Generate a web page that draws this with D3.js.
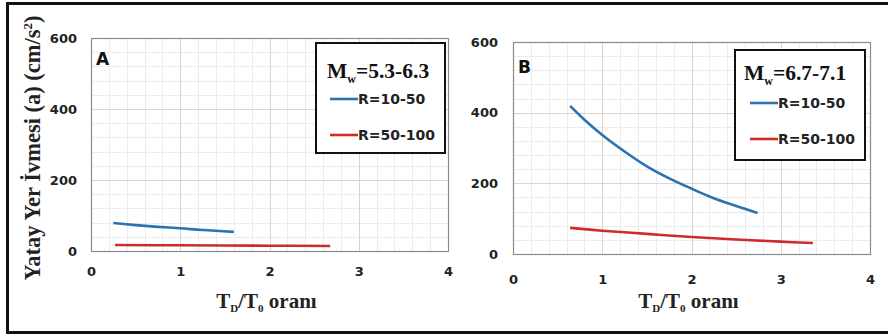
<!DOCTYPE html>
<html>
<head>
<meta charset="utf-8">
<script src="https://cdn.jsdelivr.net/npm/d3@7"></script>
<style>
  html, body { margin: 0; padding: 0; background: #fff; }
  svg { display: block; }
</style>
</head>
<body>
<svg id="chart" width="888" height="336"></svg>
<script>
// Tick values shared by both panels
const xTicks = [0, 1, 2, 3, 4];
const yTicks = [0, 200, 400, 600];

// Panel A: Mw 5.3-6.3
const aNear = [[0.25, 79], [0.5, 73], [0.75, 68], [1.0, 64], [1.25, 59], [1.6, 54]];
const aFar  = [[0.27, 17], [1.0, 16], [2.0, 15], [2.68, 14]];

// Panel B: Mw 6.7-7.1
const bNear = [[0.64, 419], [0.8, 380], [1.0, 337], [1.25, 290], [1.5, 248], [1.75, 214],
               [2.0, 185], [2.25, 158], [2.5, 136], [2.74, 116]];
const bFar  = [[0.64, 74], [1.0, 66], [1.5, 57], [2.0, 48], [2.5, 41], [3.0, 35], [3.36, 31]];

const seriesNames = ["R=10-50", "R=50-100"];
const seriesColors = ["#2b72b3", "#cf2a2e"];

const sansBold = "DejaVu Sans, Verdana, sans-serif";
const serif = "Liberation Serif, Times New Roman, serif";

const svg = d3.select("#chart");

// outer frame
const frame = svg.append("g").attr("stroke", "#111").attr("stroke-width", 3).attr("fill", "none");
frame.append("line").attr("x1", 7).attr("x2", 888).attr("y1", 3.5).attr("y2", 3.5);
frame.append("line").attr("x1", 7).attr("x2", 888).attr("y1", 332.5).attr("y2", 332.5);
frame.append("line").attr("x1", 7.5).attr("x2", 7.5).attr("y1", 2).attr("y2", 334);

function panel(opts) {
  const g = svg.append("g");
  const x = d3.scaleLinear().domain([0, 4]).range([opts.left, opts.right]);
  const y = d3.scaleLinear().domain([0, 600]).range([opts.bottom, opts.top]);

  // minor grid
  const gx = g.append("g").attr("stroke", "#ececec").attr("stroke-width", 1);
  d3.range(0, 4.001, 0.2).forEach(v => {
    gx.append("line").attr("x1", Math.round(x(v)) + 0.5).attr("x2", Math.round(x(v)) + 0.5)
      .attr("y1", opts.top).attr("y2", opts.bottom);
  });
  d3.range(0, 600.1, 40).forEach(v => {
    gx.append("line").attr("y1", Math.round(y(v)) + 0.5).attr("y2", Math.round(y(v)) + 0.5)
      .attr("x1", opts.left).attr("x2", opts.right);
  });
  // major grid
  const gm = g.append("g").attr("stroke", "#d6d6d6").attr("stroke-width", 1);
  xTicks.forEach(v => {
    gm.append("line").attr("x1", Math.round(x(v)) + 0.5).attr("x2", Math.round(x(v)) + 0.5)
      .attr("y1", opts.top).attr("y2", opts.bottom);
  });
  yTicks.forEach(v => {
    gm.append("line").attr("y1", Math.round(y(v)) + 0.5).attr("y2", Math.round(y(v)) + 0.5)
      .attr("x1", opts.left).attr("x2", opts.right);
  });

  // plot border
  g.append("rect").attr("x", opts.left + 0.5).attr("y", opts.top + 0.5)
    .attr("width", opts.right - opts.left).attr("height", opts.bottom - opts.top)
    .attr("fill", "none").attr("stroke", "#8a8a8a").attr("stroke-width", 1.2);

  // axes
  const xAxis = d3.axisBottom(x).tickValues(xTicks).tickSize(0).tickPadding(opts.xPad).tickFormat(d3.format("d"));
  const yAxis = d3.axisLeft(y).tickValues(yTicks).tickSize(0).tickPadding(opts.yPad).tickFormat(d3.format("d"));
  const ax = g.append("g").attr("transform", `translate(0,${opts.bottom})`).call(xAxis);
  const ay = g.append("g").attr("transform", `translate(${opts.left},0)`).call(yAxis);
  [ax, ay].forEach(a => {
    a.select(".domain").remove();
    a.selectAll("text").attr("font-family", sansBold)
      .attr("font-weight", "bold").attr("font-size", 13).attr("fill", "#222");
  });

  // series
  const line = d3.line().x(d => x(d[0])).y(d => y(d[1])).curve(d3.curveCatmullRom);
  opts.data.forEach((ser, i) => {
    g.append("path").datum(ser).attr("d", line).attr("fill", "none")
      .attr("stroke", seriesColors[i]).attr("stroke-width", 2.6).attr("stroke-linecap", "butt");
  });

  // panel letter
  g.append("text").attr("x", opts.letterX).attr("y", opts.letterY).text(opts.letter)
    .attr("font-family", sansBold).attr("font-weight", "bold")
    .attr("font-size", 17).attr("fill", "#111");

  // legend
  const L = opts.legend;
  g.append("rect").attr("x", L.x).attr("y", L.y).attr("width", L.w).attr("height", L.h)
    .attr("fill", "#fff").attr("stroke", "#111").attr("stroke-width", 2);
  const title = g.append("text").attr("x", L.x + L.tx).attr("y", L.y + L.ty)
    .attr("font-family", serif).attr("font-weight", "bold")
    .attr("font-size", 21.5).attr("fill", "#111");
  title.append("tspan").text("M");
  title.append("tspan").text("w").attr("font-size", 12).attr("dy", 5);
  title.append("tspan").text("=" + opts.mw).attr("dy", -5);
  seriesNames.forEach((name, i) => {
    const yy = L.y + L.ly[i];
    g.append("line").attr("x1", L.x + L.lx).attr("x2", L.x + L.lx + 28).attr("y1", yy).attr("y2", yy)
      .attr("stroke", seriesColors[i]).attr("stroke-width", 2.6);
    g.append("text").attr("x", L.x + L.lx + 28).attr("y", yy + 5).text(name)
      .attr("font-family", sansBold).attr("font-weight", "bold")
      .attr("font-size", 14).attr("fill", "#222");
  });

  // x-axis title
  const xt = g.append("text").attr("x", (opts.left + opts.right) / 2 - 3).attr("y", 308)
    .attr("text-anchor", "middle")
    .attr("font-family", serif).attr("font-weight", "bold")
    .attr("font-size", 21).attr("fill", "#222");
  xt.append("tspan").text("T");
  xt.append("tspan").text("D").attr("font-size", 11).attr("dy", 4);
  xt.append("tspan").text("/T").attr("dy", -4);
  xt.append("tspan").text("0").attr("font-size", 11).attr("dy", 4);
  xt.append("tspan").text(" oranı").attr("dy", -4);

  return { x, y };
}

panel({
  left: 91, right: 448, top: 38, bottom: 251, xPad: 16, yPad: 14,
  data: [aNear, aFar], letter: "A", letterX: 96, letterY: 65, mw: "5.3-6.3",
  legend: { x: 316, y: 43, w: 129, h: 110, tx: 11, ty: 35, lx: 14, ly: [56, 92] }
});

panel({
  left: 513, right: 870, top: 42, bottom: 254, xPad: 21, yPad: 15,
  data: [bNear, bFar], letter: "B", letterX: 518, letterY: 73, mw: "6.7-7.1",
  legend: { x: 735, y: 50, w: 130, h: 110, tx: 9, ty: 30, lx: 15, ly: [53, 89] }
});

// y-axis title (left panel only)
const yt = svg.append("text").attr("transform", "translate(40,148) rotate(-90)")
  .attr("text-anchor", "middle")
  .attr("font-family", serif).attr("font-weight", "bold")
  .attr("font-size", 22.5).attr("fill", "#222");
yt.append("tspan").text("Yatay Yer İvmesi (a) (cm/s");
yt.append("tspan").text("2").attr("font-size", 13).attr("dy", -8);
yt.append("tspan").text(")").attr("dy", 8);
</script>
</body>
</html>
